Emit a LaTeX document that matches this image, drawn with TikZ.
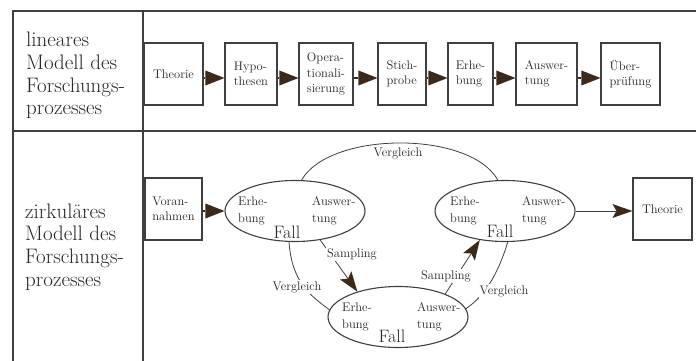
\documentclass[tikz,border=0pt]{standalone}
\usepackage{fontspec}
\usetikzlibrary{arrows.meta,shapes.geometric,calc}
\definecolor{linec}{HTML}{3F3F3F}
\definecolor{textc}{HTML}{262626}
\definecolor{arrc}{HTML}{3B2A1C}
\tikzset{
  frame/.style={draw=linec, line width=1.2pt},
  box/.style={draw=linec, line width=1.1pt, align=left, inner sep=0pt,
    font=\fontsize{12.5}{15.5}\selectfont, text=textc},
  fall/.style={ellipse, draw=linec, line width=1.1pt, minimum width=140pt,
    minimum height=61pt, inner sep=0pt},
  intext/.style={align=left, inner sep=0pt, text=textc,
    font=\fontsize{12.5}{16.5}\selectfont},
  falltext/.style={inner sep=0pt, text=textc, font=\fontsize{18}{20}\selectfont},
  lbl/.style={inner sep=1pt, text=textc, font=\fontsize{12.5}{14}\selectfont},
  side/.style={inner sep=0pt, text=textc, font=\fontsize{21}{23}\selectfont},
  bigarr/.style={draw=arrc, line width=2pt,
    -{Triangle[length=19pt,width=15pt,line width=0pt]}},
  thinarr/.style={draw=linec, line width=0.8pt,
    -{Stealth[length=20pt,width=14pt,inset=4pt,line width=0pt,color=arrc]}},
  conn/.style={draw=linec, line width=0.8pt}
}
\begin{document}
\begin{tikzpicture}[x=1pt,y=-1pt]
\useasboundingbox (0,0) rectangle (696,361);
% frame
\draw[frame] (13,361) -- (13,11) -- (696,11);
\draw[frame] (143,11) -- (143,361);
\draw[frame] (13,131) -- (696,131);
% side labels
\node[side, anchor=base west] (la) at (26,47) {lineares};
\node[side, anchor=base west] (lb) at (26,70) {Modell des};
\node[side, anchor=base west] (lc) at (26,92.5) {Forschungs-};
\node[side, anchor=base west] (ld) at (26,114) {prozesses};
\node[side, anchor=base west] (za) at (25,218) {zirkuläres};
\node[side, anchor=base west] (zb) at (25,240.5) {Modell des};
\node[side, anchor=base west] (zc) at (25,263) {Forschungs-};
\node[side, anchor=base west] (zd) at (25,286) {prozesses};
% linear model
\node[box, minimum width=59pt, minimum height=62pt] (t1) at (173.5,74) {Theorie};
\node[box, minimum width=52pt, minimum height=62pt] (t2) at (251,74) {Hypo-\\thesen};
\node[box, minimum width=54pt, minimum height=62pt] (t3) at (326,74) {Opera-\\tionali-\\sierung};
\node[box, minimum width=48pt, minimum height=62pt] (t4) at (402,74) {Stich-\\probe};
\node[box, minimum width=45pt, minimum height=62pt] (t5) at (470.5,74) {Erhe-\\bung};
\node[box, minimum width=61pt, minimum height=62pt] (t6) at (546.5,74) {Auswer-\\tung};
\node[box, minimum width=59pt, minimum height=62pt] (t7) at (630.5,74) {Über-\\prüfung};
\draw[bigarr] ($(t1.east)+(0,4)$) -- ($(t2.west)+(0,4)$);
\draw[bigarr] ($(t2.east)+(0,4)$) -- ($(t3.west)+(0,4)$);
\draw[bigarr] ($(t3.east)+(0,4)$) -- ($(t4.west)+(0,4)$);
\draw[bigarr] ($(t4.east)+(0,4)$) -- ($(t5.west)+(0,4)$);
\draw[bigarr] ($(t5.east)+(0,4)$) -- ($(t6.west)+(0,4)$);
\draw[bigarr] ($(t6.east)+(0,4)$) -- ($(t7.west)+(0,4)$);
% circular model
\node[box, minimum width=57pt, minimum height=62pt] (vor) at (173.5,209) {Voran-\\nahmen};
\node[fall] (e1) at (295,211) {};
\node[fall] (e2) at (505,211) {};
\node[fall] (e3) at (398,317) {};
\node[box, minimum width=59pt, minimum height=62pt] (th2) at (662.5,209) {Theorie};
% ellipse texts
\node[intext, anchor=west] (e1a) at ($(e1)+(-57,0)$) {Erhe-\\bung};
\node[intext, anchor=west] (e1b) at ($(e1)+(17,0)$) {Auswer-\\tung};
\node[falltext] (e1c) at ($(e1)+(-8,21)$) {Fall};
\node[intext, anchor=west] (e2a) at ($(e2)+(-55,0)$) {Erhe-\\bung};
\node[intext, anchor=west] (e2b) at ($(e2)+(17,0)$) {Auswer-\\tung};
\node[falltext] (e2c) at ($(e2)+(-5,20)$) {Fall};
\node[intext, anchor=west] (e3a) at ($(e3)+(-56,0)$) {Erhe-\\bung};
\node[intext, anchor=west] (e3b) at ($(e3)+(19,0)$) {Auswer-\\tung};
\node[falltext] (e3c) at ($(e3)+(-6,19)$) {Fall};
% arrows
\draw[bigarr] (vor.east |- e1) -- (e1.west);
\draw[thinarr] (e2.east) -- (e2.east -| th2.west);
\draw[thinarr] (e1.-49) -- (e3.148);
\node[lbl, fill=white] (s1) at (352,254) {Sampling};
\draw[thinarr] (e3.26) -- (e2.-131);
\node[lbl, fill=white] (s2) at (446,276) {Sampling};
% comparisons
\draw[conn] (e1.78) .. controls +(28,-49) and +(-28,-50) .. (e2.103);
\node[lbl] (v1) at (398,153) {Vergleich};
\draw[conn] (e1.-101) .. controls +(3,40) and +(-20,-15) .. (e3.174);
\node[lbl, fill=white] (v2) at (297,287) {Vergleich};
\draw[conn] (e2.-85) .. controls +(-8,27) and +(21,-14) .. (e3.7);
\node[lbl, fill=white] (v3) at (504,291) {Vergleich};
\end{tikzpicture}
\end{document}
